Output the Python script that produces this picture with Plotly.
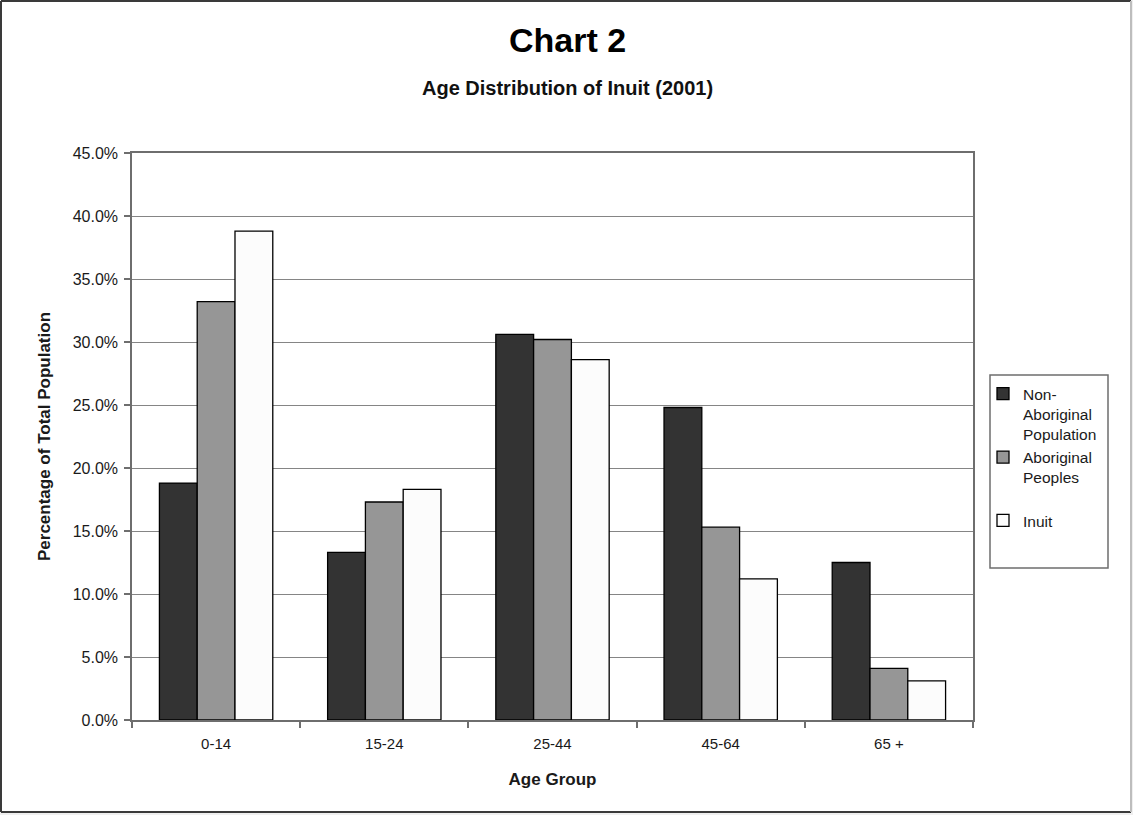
import plotly.graph_objects as go

# Age groups and share of each population (%) in 2001
age_groups = ["0-14", "15-24", "25-44", "45-64", "65 +"]
non_aboriginal = [18.8, 13.3, 30.6, 24.8, 12.5]
aboriginal = [33.2, 17.3, 30.2, 15.3, 4.1]
inuit = [38.8, 18.3, 28.6, 11.2, 3.1]

series_names = ["Non-<br>Aboriginal<br>Population", "Aboriginal<br>Peoples<br> ", "Inuit"]
series_colors = ["#333333", "#969696", "#fcfcfc"]
y_ticks = [0, 5, 10, 15, 20, 25, 30, 35, 40, 45]
y_tick_text = [f"{v:.1f}%" for v in y_ticks]

W, H = 1133, 815
L, R, T, B = 132, 160, 153, 95
PW, PH = W - L - R, H - T - B
FONT = "Liberation Sans, Arial, sans-serif"


def fx(px):
    return (px - L) / PW


def fy(py):
    return (H - B - py) / PH


fig = go.Figure()
for name, vals, col in zip(series_names, [non_aboriginal, aboriginal, inuit], series_colors):
    fig.add_trace(go.Bar(
        x=age_groups, y=vals, name=name,
        marker=dict(color=col, line=dict(color="#000000", width=1.3)),
    ))

frame_dark = "#3a3a3a"
shapes = [
    # white page with frame
    dict(type="rect", xref="paper", yref="paper", x0=fx(1), x1=fx(1131), y0=fy(812), y1=fy(1),
         fillcolor="white", line=dict(width=0), layer="below"),
    dict(type="line", xref="paper", yref="paper", x0=fx(1), x1=fx(1), y0=fy(812), y1=fy(1),
         line=dict(color=frame_dark, width=2)),
    dict(type="line", xref="paper", yref="paper", x0=fx(1), x1=fx(1131), y0=fy(1), y1=fy(1),
         line=dict(color=frame_dark, width=2)),
    dict(type="line", xref="paper", yref="paper", x0=fx(1), x1=fx(1131), y0=fy(812), y1=fy(812),
         line=dict(color=frame_dark, width=2)),
    dict(type="line", xref="paper", yref="paper", x0=fx(1131), x1=fx(1131), y0=fy(812), y1=fy(1),
         line=dict(color="#bdbdbd", width=2)),
    # legend box
    dict(type="rect", xref="paper", yref="paper", x0=fx(990), x1=fx(1108), y0=fy(568), y1=fy(375),
         fillcolor="white", line=dict(color="#6e6e6e", width=1.5)),
]

fig.update_layout(
    width=W, height=H,
    margin=dict(l=L, r=R, t=T, b=B, pad=0),
    paper_bgcolor="#efefef",
    plot_bgcolor="white",
    font=dict(family=FONT, color="#1a1a1a"),
    barmode="group",
    bargap=0.326,
    bargroupgap=0,
    showlegend=True,
    legend=dict(
        x=fx(983), y=fy(377), xanchor="left", yanchor="top",
        bgcolor="rgba(0,0,0,0)", borderwidth=0,
        font=dict(size=15.5, family=FONT, color="#1a1a1a"),
        valign="top", tracegroupgap=0, itemwidth=30,
    ),
    shapes=shapes,
    annotations=[
        dict(text="Chart 2", x=fx(567), y=fy(40), xref="paper", yref="paper",
             xanchor="center", yanchor="middle", showarrow=False,
             font=dict(size=34, family=FONT, color="#000000", weight="bold")),
        dict(text="Age Distribution of Inuit (2001)", x=fx(567), y=fy(88), xref="paper", yref="paper",
             xanchor="center", yanchor="middle", showarrow=False,
             font=dict(size=20, family=FONT, color="#111111", weight="bold")),
    ],
)

fig.update_xaxes(
    type="category",
    showgrid=False,
    showline=True, linecolor="#6e6e6e", linewidth=1.5, mirror=True,
    ticks="outside", tickson="boundaries", ticklen=6, tickcolor="#6e6e6e", tickwidth=1.5,
    tickfont=dict(size=15, family=FONT, color="#1a1a1a"),
    ticklabelstandoff=9,
    title=dict(text="Age Group", standoff=22,
               font=dict(size=17, family=FONT, color="#1a1a1a", weight="bold")),
)

fig.update_yaxes(
    range=[0, 45],
    tickmode="array", tickvals=y_ticks, ticktext=y_tick_text,
    showgrid=True, gridcolor="#858585", gridwidth=1.4,
    showline=True, linecolor="#6e6e6e", linewidth=1.5, mirror=True,
    ticks="outside", ticklen=6, tickcolor="#6e6e6e", tickwidth=1.5,
    tickfont=dict(size=16, family=FONT, color="#1a1a1a"),
    ticklabelstandoff=3,
    zeroline=False,
    title=dict(text="Percentage of Total Population", standoff=18,
               font=dict(size=17, family=FONT, color="#1a1a1a", weight="bold")),
)

fig.write_html("out.html")
